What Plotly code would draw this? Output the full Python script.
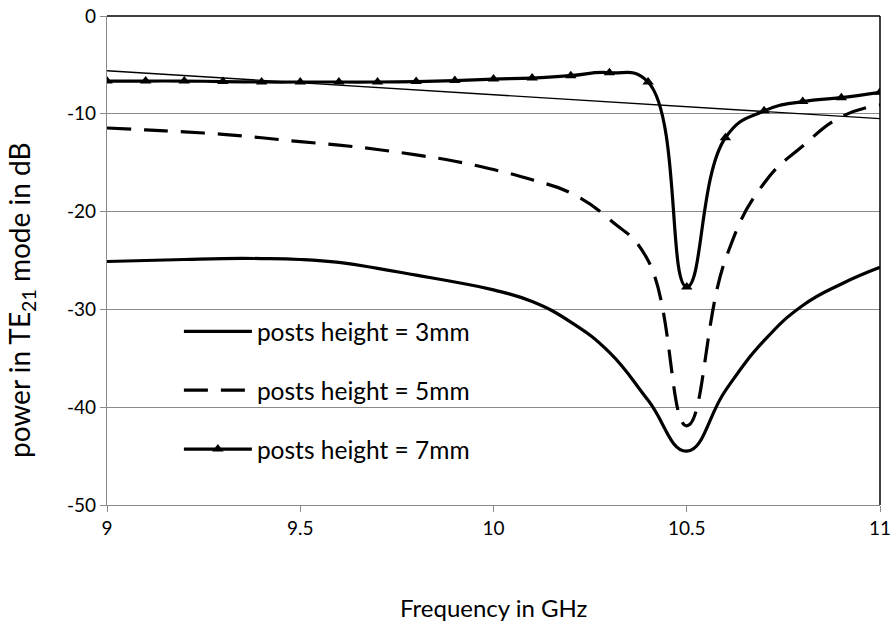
import plotly.graph_objects as go

freq = [9.0, 9.1, 9.2, 9.3, 9.4, 9.5, 9.6, 9.7, 9.8, 9.9, 10.0,
        10.1, 10.2, 10.3, 10.4, 10.5, 10.6, 10.7, 10.8, 10.9, 11.0]
h3mm = [-25.1, -25.0, -24.9, -24.8, -24.8, -24.9, -25.2, -25.8, -26.5, -27.2, -28.0,
        -29.2, -31.3, -34.4, -39.3, -44.5, -38.3, -33.2, -29.6, -27.4, -25.7]
h5mm = [-11.45, -11.65, -11.85, -12.1, -12.45, -12.85, -13.2, -13.65, -14.2, -14.85, -15.7,
        -16.75, -18.1, -20.8, -25.0, -41.9, -24.9, -17.1, -13.3, -10.3, -9.1]
h7mm = [-6.65, -6.65, -6.65, -6.7, -6.75, -6.75, -6.75, -6.75, -6.7, -6.6, -6.45,
        -6.35, -6.1, -5.8, -6.75, -27.7, -12.45, -9.7, -8.75, -8.35, -7.8]
trend_x = [9.0, 11.0]
trend_y = [-5.6, -10.5]

names = ["posts height = 3mm", "posts height = 5mm", "posts height = 7mm"]
x_ticks = [9, 9.5, 10, 10.5, 11]
x_ticktext = ["9", "9.5", "10", "10.5", "11"]
y_ticks = [0, -10, -20, -30, -40, -50]
y_ticktext = ["0", "-10", "-20", "-30", "-40", "-50"]

FONT = "Lato, Carlito, sans-serif"
SM = 1.3
fig = go.Figure()
fig.add_trace(go.Scatter(x=trend_x, y=trend_y, mode="lines",
                         line=dict(color="black", width=1.3), showlegend=False, hoverinfo="skip"))
fig.add_trace(go.Scatter(x=freq, y=h3mm, mode="lines", name=names[0], legendgroup="a",
                         line=dict(color="black", width=3.2, shape="spline", smoothing=SM)))
fig.add_trace(go.Scatter(x=freq, y=h5mm, mode="lines", name=names[1], legendgroup="b",
                         line=dict(color="black", width=3.2, shape="spline", smoothing=SM,
                                   dash="24px,13px")))
fig.add_trace(go.Scatter(x=freq, y=h7mm, mode="lines+markers", name=names[2], legendgroup="c",
                         line=dict(color="black", width=3.2, shape="spline", smoothing=SM),
                         marker=dict(symbol="triangle-up", size=10, color="black")))

fig.update_layout(
    width=894, height=628, autosize=False,
    margin=dict(l=107, r=14, t=16, b=123, autoexpand=False),
    paper_bgcolor="white", plot_bgcolor="white",
    font=dict(family=FONT, color="black", size=19),
    showlegend=True,
    legend=dict(x=0.093, y=0.401, xanchor="left", yanchor="top",
                bgcolor="rgba(0,0,0,0)", font=dict(size=24.5, family=FONT),
                tracegroupgap=24, itemwidth=68),
    xaxis=dict(range=[9, 11], tickvals=x_ticks, ticktext=x_ticktext, automargin=False,
               showgrid=False, zeroline=False, showline=True, linecolor="#8a8a8a",
               linewidth=1.3, ticks="outside", ticklen=6, tickcolor="#8a8a8a",
               tickfont=dict(size=19, family=FONT)),
    yaxis=dict(range=[-50, 0], tickvals=y_ticks, ticktext=y_ticktext, automargin=False,
               showgrid=True, gridcolor="#8a8a8a", gridwidth=1.3, zeroline=False,
               showline=True, linecolor="#8a8a8a", linewidth=1.3, ticks="outside",
               ticklen=6, tickcolor="#8a8a8a", tickfont=dict(size=19, family=FONT)),
    shapes=[
        dict(type="line", xref="paper", yref="paper", x0=0, x1=1, y0=1, y1=1,
             line=dict(color="black", width=1.5)),
        dict(type="line", xref="paper", yref="paper", x0=1, x1=1, y0=0, y1=1,
             line=dict(color="black", width=1.5)),
    ],
    annotations=[
        dict(text="Frequency in GHz", xref="paper", yref="paper", x=0.5, y=-0.2106,
             xanchor="center", yanchor="middle", showarrow=False,
             font=dict(size=24, family=FONT)),
        dict(text="power in TE<sub>21</sub> mode in dB", xref="paper", yref="paper",
             x=-0.112, y=0.42, xanchor="center", yanchor="middle", textangle=-90,
             showarrow=False, font=dict(size=28, family=FONT)),
    ],
)

fig.write_html("out.html")
